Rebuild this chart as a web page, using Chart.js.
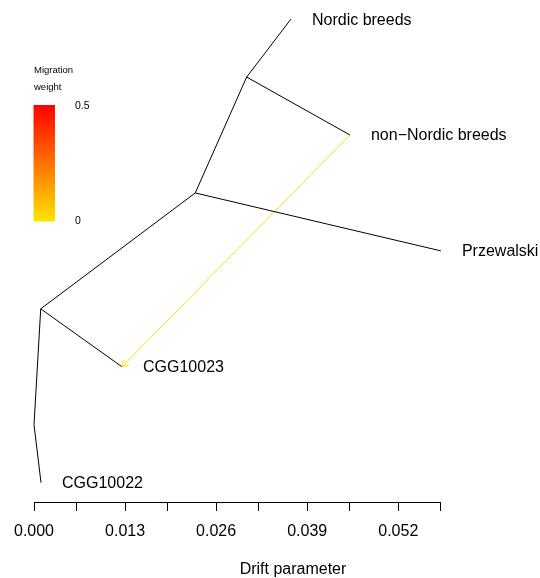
<!DOCTYPE html>
<html>
<head>
<meta charset="utf-8">
<script src="https://cdn.jsdelivr.net/npm/chart.js@4/dist/chart.umd.min.js"></script>
<style>
  html, body { margin: 0; padding: 0; background: #ffffff; }
  canvas { display: block; }
</style>
</head>
<body>
<canvas id="tree" width="540" height="578"></canvas>
<script>
// Tips of the population tree: drift from the root and vertical row
const tipNames = ['CGG10022', 'CGG10023', 'Przewalski', 'non\u2212Nordic breeds', 'Nordic breeds'];
const tipDrift = [0.00100, 0.01256, 0.05809, 0.04510, 0.03668];
const tipRow = [1, 2, 3, 4, 5];

// Internal nodes
const nodeNames = ['root', 'n1', 'n2', 'n3'];
const nodeDrift = [0.00000, 0.00096, 0.02302, 0.03036];
const nodeRow = [1.5, 2.5, 3.5, 4.5];

// Branches (parent -> child)
const edgeFrom = ['root', 'root', 'n1', 'n1', 'n2', 'n2', 'n3', 'n3'];
const edgeTo = ['CGG10022', 'n1', 'CGG10023', 'n2', 'Przewalski', 'n3', 'Nordic breeds', 'non\u2212Nordic breeds'];

// Migration edge
const migFrom = ['non\u2212Nordic breeds'];
const migTo = ['CGG10023'];
const migWeight = [0.01];

// Drift axis ticks
const driftTicks = [0, 0.006, 0.013, 0.019, 0.026, 0.032, 0.039, 0.045, 0.052, 0.058];
const driftTickLabels = ['0.000', '', '0.013', '', '0.026', '', '0.039', '', '0.052', ''];

// Migration weight legend range
const weightRange = [0, 0.5];
const weightLegendLabels = ['0', '0.5'];

const FONT = '"Liberation Sans", Arial, Helvetica, sans-serif';

// lookup of every vertex
const vertex = {};
tipNames.forEach((n, i) => vertex[n] = { x: tipDrift[i], y: tipRow[i] });
nodeNames.forEach((n, i) => vertex[n] = { x: nodeDrift[i], y: nodeRow[i] });

// heat-style ramp: yellow at weight 0 to red at the top of the range
function weightColor(w) {
  const t = Math.max(0, Math.min(1, (w - weightRange[0]) / (weightRange[1] - weightRange[0])));
  const hue = 53.6 * (1 - t);
  const g = Math.round(255 * hue / 60);
  return 'rgb(255,' + g + ',0)';
}

const datasets = [];
edgeFrom.forEach((f, i) => {
  datasets.push({
    label: f + '-' + edgeTo[i],
    data: [vertex[f], vertex[edgeTo[i]]],
    showLine: true,
    borderColor: '#000000',
    borderWidth: 1,
    pointRadius: 0,
    tension: 0,
    clip: false
  });
});
migFrom.forEach((f, i) => {
  datasets.push({
    label: 'migration',
    data: [vertex[f], vertex[migTo[i]]],
    showLine: true,
    borderColor: weightColor(migWeight[i]),
    borderWidth: 1,
    pointRadius: 0,
    tension: 0,
    clip: false,
    isMigration: true
  });
});

// tip labels, migration arrowheads, weight legend and axis title
const treeDecor = {
  id: 'treeDecor',
  afterDatasetsDraw(chart) {
    const ctx = chart.ctx;
    const xs = chart.scales.x, ys = chart.scales.y;
    ctx.save();

    // arrowheads at the receiving end of each migration edge
    migFrom.forEach((f, i) => {
      const a = vertex[f], b = vertex[migTo[i]];
      const x0 = xs.getPixelForValue(a.x), y0 = ys.getPixelForValue(a.y);
      const x1 = xs.getPixelForValue(b.x), y1 = ys.getPixelForValue(b.y);
      const ang = Math.atan2(y1 - y0, x1 - x0);
      const len = 7, spread = Math.PI / 6;
      ctx.strokeStyle = weightColor(migWeight[i]);
      ctx.lineWidth = 1;
      ctx.beginPath();
      ctx.moveTo(x1 - len * Math.cos(ang - spread), y1 - len * Math.sin(ang - spread));
      ctx.lineTo(x1, y1);
      ctx.lineTo(x1 - len * Math.cos(ang + spread), y1 - len * Math.sin(ang + spread));
      ctx.stroke();
    });

    // tip labels
    ctx.fillStyle = '#000000';
    ctx.font = '16px ' + FONT;
    ctx.textAlign = 'left';
    ctx.textBaseline = 'middle';
    tipNames.forEach((n, i) => {
      ctx.fillText(n, xs.getPixelForValue(tipDrift[i]) + 21, ys.getPixelForValue(tipRow[i]) + 1);
    });

    // axis title
    ctx.textAlign = 'center';
    ctx.fillText('Drift parameter', 293, 570);

    // migration weight legend
    const bx = 33.5, bw = 21.5, btop = 105, bbot = 221.5;
    const grad = ctx.createLinearGradient(0, bbot, 0, btop);
    grad.addColorStop(0, weightColor(weightRange[0]));
    grad.addColorStop(1, weightColor(weightRange[1]));
    ctx.fillStyle = grad;
    ctx.fillRect(bx, btop, bw, bbot - btop);

    ctx.fillStyle = '#000000';
    ctx.textAlign = 'left';
    ctx.font = '9.5px ' + FONT;
    ctx.fillText('Migration', 34, 70);
    ctx.fillText('weight', 34, 87);
    ctx.font = '10.5px ' + FONT;
    ctx.fillText(weightLegendLabels[1], 75, 106);
    ctx.fillText(weightLegendLabels[0], 75, 221);

    ctx.restore();
  }
};

new Chart(document.getElementById('tree'), {
  type: 'scatter',
  data: { datasets },
  options: {
    responsive: false,
    animation: false,
    devicePixelRatio: 1,
    layout: { padding: { left: 34, right: 99.7, top: 10, bottom: 0 } },
    plugins: {
      legend: { display: false },
      tooltip: { enabled: false },
      title: { display: false }
    },
    scales: {
      x: {
        type: 'linear',
        position: 'bottom',
        min: driftTicks[0],
        max: driftTicks[driftTicks.length - 1],
        afterBuildTicks: (scale) => { scale.ticks = driftTicks.map(v => ({ value: v })); },
        afterFit: (scale) => { scale.height = 76; },
        ticks: {
          autoSkip: false,
          maxRotation: 0,
          padding: 11,
          color: '#000000',
          font: { family: FONT, size: 16 },
          callback: (value, index) => driftTickLabels[index]
        },
        grid: {
          display: true,
          drawOnChartArea: false,
          drawTicks: true,
          tickLength: 9,
          color: '#000000',
          lineWidth: 1
        },
        border: { display: true, color: '#000000', width: 1 }
      },
      y: {
        type: 'linear',
        display: false,
        min: 0.8335,
        max: 5.0785
      }
    }
  },
  plugins: [treeDecor]
});
</script>
</body>
</html>
